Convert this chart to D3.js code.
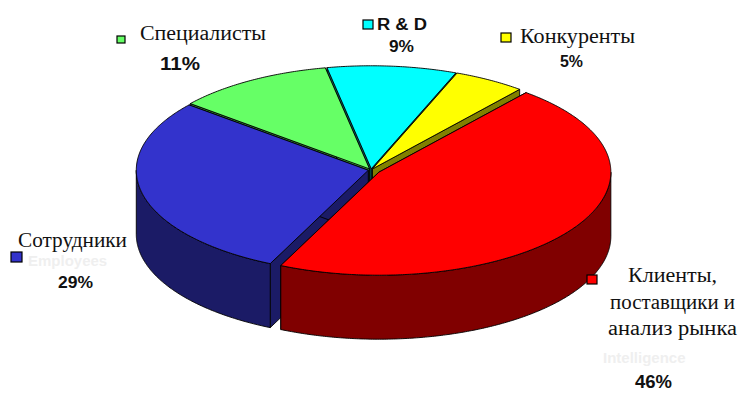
<!DOCTYPE html>
<html>
<head>
<meta charset="utf-8">
<script src="https://cdn.jsdelivr.net/npm/d3@7"></script>
<style>
  body { margin: 0; background: #fff; }
  svg { display: block; }
</style>
</head>
<body>
<svg id="chart" width="749" height="404"></svg>
<script>
// slices, clockwise from the top-left edge of R & D
var names = ["R & D", "Конкуренты", "Клиенты,|поставщики и|анализ рынка", "Сотрудники", "Специалисты"];
var shares = [9, 5, 46, 29, 11];
var pctLabels = ["9%", "5%", "46%", "29%", "11%"];
var ghostNames = ["", "", "Intelligence", "Employees", ""];

var topColors = ["#00ffff", "#ffff00", "#ff0000", "#3333cc", "#66ff66"];
var sideColors = ["#008080", "#808000", "#800000", "#1b1b66", "#339933"];
var explode = [0.012, 0.012, 0.04, 0.012, 0.012];

// label layout: name block, square key, percentage
var nameLayout = [
  {x: 377, y: 30, w: 50, sans: true, size: 16},
  {x: 520, y: 43, w: 115, size: 20},
  {x: [628, 610, 608], y: [282, 309, 335], w: [89, 125, 129], size: 20},
  {x: 18, y: 247, w: 109, size: 20},
  {x: 140, y: 40, w: 126, size: 20}
];
var keyLayout = [[363, 20, 10], [501, 33, 10], [587, 275, 10], [11, 252, 11], [117, 36, 8]];
var pctLayout = [
  {x: 389, y: 52, w: 25, size: 16},
  {x: 560, y: 67, w: 23, size: 17},
  {x: 635, y: 388, w: 37, size: 18},
  {x: 58, y: 288, w: 35, size: 17},
  {x: 160, y: 70, w: 40, size: 19}
];
var ghostLayout = [null, null, {x: 603, y: 363}, {x: 28, y: 266}, null];

var svg = d3.select("#chart"),
    cx = 371, cy = 170, rx = 232, ry = 103, depth = 64;

var start = -11 * Math.PI / 180;
var pie = d3.pie().sort(null).startAngle(start).endAngle(start + 2 * Math.PI);
var arcs = pie(shares);

var line = d3.line();

function pt(a, o, dz) {
  return [cx + o[0] + rx * Math.sin(a), cy + o[1] - ry * Math.cos(a) + (dz || 0)];
}

function arcPts(a0, a1, o, dz) {
  var n = Math.max(2, Math.ceil(Math.abs(a1 - a0) / 0.01)), out = [];
  for (var i = 0; i <= n; i++) out.push(pt(a0 + (a1 - a0) * i / n, o, dz));
  return out;
}

var slices = arcs.map(function(d, i) {
  var mid = (d.startAngle + d.endAngle) / 2;
  var o = [explode[i] * rx * Math.sin(mid), -explode[i] * ry * Math.cos(mid)];
  return {d: d, i: i, o: o, depthKey: -Math.cos(mid)};
});

// back to front
slices.sort(function(a, b) { return a.depthKey - b.depthKey; });

var pieG = svg.append("g")
    .attr("stroke", "#000")
    .attr("stroke-width", 0.9)
    .attr("stroke-linejoin", "round");

slices.forEach(function(s) {
  var d = s.d, o = s.o, i = s.i;
  var c0 = [cx + o[0], cy + o[1]], c1 = [cx + o[0], cy + o[1] + depth];

  // radial faces
  [d.startAngle, d.endAngle].forEach(function(a) {
    pieG.append("path")
        .attr("fill", sideColors[i])
        .attr("d", line([c0, pt(a, o), pt(a, o, depth), c1]) + "Z");
  });

  // outer wall, front half only
  [[Math.PI / 2, 3 * Math.PI / 2], [-3 * Math.PI / 2, -Math.PI / 2], [5 * Math.PI / 2, 7 * Math.PI / 2]].forEach(function(r) {
    var b0 = Math.max(d.startAngle, r[0]), b1 = Math.min(d.endAngle, r[1]);
    if (b1 <= b0) return;
    var pts = arcPts(b0, b1, o).concat(arcPts(b1, b0, o, depth));
    pieG.append("path")
        .attr("fill", sideColors[i])
        .attr("d", line(pts) + "Z");
  });

  // top
  pieG.append("path")
      .attr("fill", topColors[i])
      .attr("d", line([c0].concat(arcPts(d.startAngle, d.endAngle, o))) + "Z");
});

// faint english ghosts
ghostNames.forEach(function(g, i) {
  if (!g) return;
  var L = ghostLayout[i];
  svg.append("text")
      .attr("x", L.x)
      .attr("y", L.y)
      .attr("fill", "#efefef")
      .style("font", "bold 15px 'Liberation Sans', Arial, sans-serif")
      .text(g);
});

// key squares
keyLayout.forEach(function(k, i) {
  svg.append("rect")
      .attr("x", k[0]).attr("y", k[1])
      .attr("width", k[2]).attr("height", k[2] - 1)
      .attr("fill", topColors[i])
      .attr("stroke", "#000")
      .attr("stroke-width", 1.2);
});

// category names
names.forEach(function(n, i) {
  var L = nameLayout[i], parts = n.split("|");
  parts.forEach(function(t, k) {
    var pick = function(v) { return Array.isArray(v) ? v[k] : v; };
    svg.append("text")
        .attr("x", pick(L.x))
        .attr("y", pick(L.y))
        .attr("fill", "#111")
        .attr("textLength", pick(L.w))
        .attr("lengthAdjust", "spacingAndGlyphs")
        .style("font", L.sans
            ? "bold " + L.size + "px 'Liberation Sans', Arial, sans-serif"
            : L.size + "px 'Liberation Serif', 'Times New Roman', serif")
        .text(t);
  });
});

// percentages
pctLabels.forEach(function(p, i) {
  var L = pctLayout[i];
  svg.append("text")
      .attr("x", L.x)
      .attr("y", L.y)
      .attr("fill", "#111")
      .attr("textLength", L.w)
      .attr("lengthAdjust", "spacingAndGlyphs")
      .style("font", "bold " + L.size + "px 'Liberation Sans', Arial, sans-serif")
      .text(p);
});
</script>
</body>
</html>
